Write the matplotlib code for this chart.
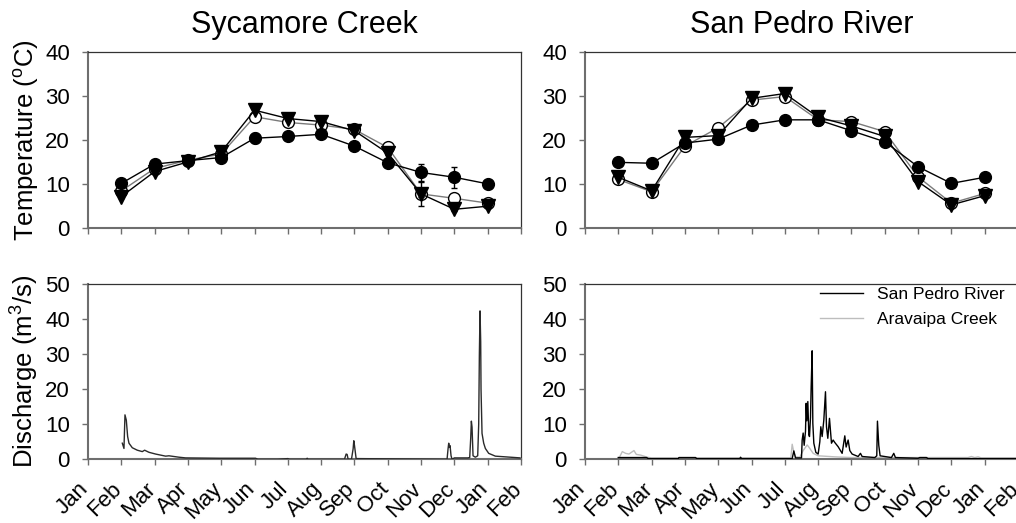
import matplotlib
matplotlib.use("Agg")
import matplotlib.pyplot as plt
import matplotlib.transforms as mtransforms
import numpy as np

plt.rcParams['font.family'] = ['Liberation Sans', 'DejaVu Sans']
plt.rcParams['mathtext.default'] = 'regular'

# ---------------- data ----------------
month_labels = ['Jan', 'Feb', 'Mar', 'Apr', 'May', 'Jun', 'Jul', 'Aug',
                'Sep', 'Oct', 'Nov', 'Dec', 'Jan', 'Feb']
temp_months = [1, 2, 3, 4, 5, 6, 7, 8, 9, 10, 11, 12]   # Feb .. Jan

# Sycamore Creek temperatures
syc_filled = [10.1, 14.5, 15.3, 16.0, 20.4, 20.8, 21.3, 18.6, 14.8, 12.6, 11.5, 10.0]
syc_filled_err = [0.3, 0.4, 0.4, 0.4, 1.1, 0.4, 0.4, 0.4, 0.5, 2.0, 2.4, 0.4]
syc_open = [8.4, 13.5, 15.4, 16.8, 25.3, 24.0, 23.4, 22.4, 18.3, 7.7, 6.7, 5.6]
syc_open_err = [0.3, 0.4, 0.4, 0.4, 0.5, 0.4, 0.4, 0.4, 0.5, 2.7, 0.8, 0.5]
syc_tri = [7.1, 12.8, 15.0, 17.3, 26.8, 24.9, 24.2, 22.1, 17.0, 7.7, 4.2, 4.9]
syc_tri_err = [0.3, 0.4, 0.4, 0.4, 0.5, 0.4, 0.4, 0.4, 0.5, 0.6, 0.5, 0.4]

# San Pedro River temperatures
sp_filled = [14.9, 14.7, 19.3, 20.2, 23.4, 24.6, 24.6, 22.1, 19.6, 13.9, 10.1, 11.5]
sp_open = [11.0, 8.2, 18.6, 22.8, 29.1, 29.9, 24.6, 24.2, 21.9, 11.6, 5.6, 7.8]
sp_tri = [11.5, 8.4, 20.6, 21.0, 29.5, 30.6, 25.2, 23.2, 20.8, 10.5, 5.2, 7.3]

# Sycamore Creek discharge (month position, m3/s)
syc_q_t = [1.03, 1.08, 1.11, 1.15, 1.19, 1.23, 1.33, 1.48, 1.63, 1.70, 1.83,
           2.03, 2.33, 2.43, 2.73, 2.93, 3.93, 5.03, 5.10, 5.70, 6.00, 6.05,
           6.55, 6.58, 6.61, 7.70, 7.75, 7.78, 7.81, 7.91, 7.96, 7.98, 8.00,
           8.05, 10.78, 10.81, 10.83, 10.85, 10.87, 10.90, 10.93, 11.00,
           11.40, 11.46, 11.49, 11.51, 11.53, 11.56, 11.63, 11.70, 11.73,
           11.75, 11.77, 11.79, 11.80, 11.83, 11.88, 11.93, 12.03, 12.23,
           12.53, 12.83, 12.97]
syc_q_v = [4.6, 3.1, 12.7, 11.2, 6.5, 4.6, 3.3, 2.6, 2.2, 2.6, 2.0,
           1.5, 0.9, 1.0, 0.6, 0.4, 0.3, 0.3, 0.0, 0.0, 0.2, 0.0,
           0.0, 0.3, 0.0, 0.0, 1.5, 1.4, 0.0, 0.0, 3.0, 5.3, 4.0,
           0.2, 0.0, 3.0, 4.6, 3.4, 3.9, 1.0, 0.0, 0.4,
           0.4, 0.5, 6.0, 10.9, 9.2, 1.0, 0.6, 1.0, 10.0,
           30.0, 42.4, 33.6, 20.0, 7.4, 4.6, 3.1, 1.7, 0.9,
           0.7, 0.5, 0.4]

# San Pedro River discharge
sp_q_t = [1.00, 1.85, 1.90, 2.80, 2.82, 3.32, 3.35, 4.65, 4.67, 4.70, 6.22,
          6.27, 6.32, 6.50, 6.52, 6.55, 6.58, 6.62, 6.64, 6.66, 6.69, 6.72,
          6.74, 6.77, 6.79, 6.82, 6.84, 6.87, 6.93, 7.00, 7.05, 7.08, 7.12,
          7.17, 7.22, 7.25, 7.29, 7.34, 7.40, 7.45, 7.50, 7.60, 7.72, 7.80,
          7.84, 7.90, 7.95, 8.02, 8.20, 8.27, 8.32, 8.70, 8.76, 8.78, 8.82,
          8.86, 9.20, 9.27, 9.32, 10.00, 10.05, 10.25, 10.30, 13.00]
sp_q_v = [0.5, 0.5, 0.2, 0.2, 0.5, 0.5, 0.2, 0.2, 0.6, 0.2, 0.2,
          2.4, 0.4, 0.4, 5.5, 7.5, 4.0, 8.0, 16.0, 11.0, 16.5, 7.0,
          6.5, 12.0, 20.7, 31.0, 10.3, 4.6, 2.0, 1.5, 5.0, 9.3, 6.5,
          11.2, 19.3, 9.3, 6.0, 11.7, 4.6, 5.5, 4.8, 3.6, 1.7, 6.7,
          3.5, 5.5, 2.5, 1.5, 0.8, 1.7, 0.8, 0.5, 1.0, 10.9, 4.0,
          1.0, 0.5, 1.7, 0.5, 0.3, 0.5, 0.5, 0.2, 0.2]

# Aravaipa Creek discharge
ar_q_t = [1.00, 1.02, 1.12, 1.22, 1.32, 1.47, 1.54, 1.67, 1.87, 2.00, 6.18,
          6.22, 6.27, 6.32, 6.45, 6.55, 6.67, 6.72, 6.85, 7.00, 7.50, 8.00,
          11.50, 11.60, 11.70, 11.80, 11.90, 13.00]
ar_q_v = [0.5, 0.3, 2.2, 1.7, 1.5, 2.5, 1.4, 1.2, 0.6, 0.4, 0.4,
          4.3, 2.0, 0.7, 0.6, 2.5, 4.1, 3.5, 1.7, 1.0, 0.7, 0.5,
          0.5, 0.8, 0.5, 0.7, 0.4, 0.4]

# ---------------- figure ----------------
W, H = 1016, 523
fig = plt.figure(figsize=(W / 100, H / 100), dpi=100)

def frac(x0, y0, x1, y1):
    return [x0 / W, 1 - y1 / H, (x1 - x0) / W, (y1 - y0) / H]

ax_tl = fig.add_axes(frac(88, 52.3, 521, 227.7))
ax_tr = fig.add_axes(frac(585, 52.3, 1018, 227.7))
ax_bl = fig.add_axes(frac(88, 284.3, 521, 459.3))
ax_br = fig.add_axes(frac(585, 284.3, 1018, 459.3))

TICK_FS = 16
SPINE_GREY = '#6e6e6e'
label_shift = mtransforms.ScaledTranslation(-0.10, -0.012, fig.dpi_scale_trans)

def style(ax, ymax, ystep, xlabels):
    ax.set_xlim(0, 13)
    ax.set_ylim(0, ymax)
    ax.set_xticks(range(14))
    ax.set_yticks(np.arange(0, ymax + 1, ystep))
    for s in ['left', 'bottom']:
        ax.spines[s].set_color(SPINE_GREY)
        ax.spines[s].set_linewidth(1.5)
    for s in ['top', 'right']:
        ax.spines[s].set_color('#333333')
        ax.spines[s].set_linewidth(0.9)
    ax.tick_params(direction='out', length=4, width=1, color=SPINE_GREY,
                   labelsize=TICK_FS, top=False, right=False)
    ax.tick_params(axis='y', pad=9)
    if xlabels:
        ax.set_xticklabels(month_labels, rotation=45, ha='right',
                           va='top', rotation_mode='anchor')
        ax.tick_params(axis='x', pad=9)
        for lab in ax.get_xticklabels():
            lab.set_transform(lab.get_transform() + label_shift)
    else:
        ax.set_xticklabels([])

def temp_plot(ax, filled, open_, tri, ferr=None, oerr=None, terr=None):
    kw = dict(markersize=8.5, capsize=2.5, elinewidth=1, capthick=1, ecolor='black')
    ax.errorbar(temp_months, open_, yerr=oerr, fmt='o-', color='#7a7a7a',
                mfc='white', mec='black', mew=1.0, lw=1, zorder=3, **kw)
    ax.errorbar(temp_months, tri, yerr=terr, fmt='v-', color='black',
                mfc='black', mec='black', lw=1, zorder=4,
                **dict(kw, markersize=9.5))
    ax.errorbar(temp_months, filled, yerr=ferr, fmt='o-', color='black',
                mfc='black', mec='black', lw=1, zorder=5, **kw)

temp_plot(ax_tl, syc_filled, syc_open, syc_tri, syc_filled_err, syc_open_err, syc_tri_err)
temp_plot(ax_tr, sp_filled, sp_open, sp_tri)

ax_bl.plot(syc_q_t, syc_q_v, color='#2a2a2a', lw=1.0, zorder=3)
ax_br.plot(ar_q_t, ar_q_v, color='#bdbdbd', lw=1.0, label='Aravaipa Creek', zorder=2)
ax_br.plot(sp_q_t, sp_q_v, color='black', lw=1.0, label='San Pedro River', zorder=3)

style(ax_tl, 40, 10, False)
style(ax_tr, 40, 10, False)
style(ax_bl, 50, 10, True)
style(ax_br, 50, 10, True)

ax_tl.set_title('Sycamore Creek', fontsize=22, pad=14)
ax_tr.set_title('San Pedro River', fontsize=22, pad=14)

ax_tl.set_ylabel('Temperature ($^{o}$C)', fontsize=18.5)
ax_bl.set_ylabel('Discharge (m$^{3}$/s)', fontsize=18.5)
ax_tl.yaxis.set_label_coords(-0.108, 0.5)
ax_bl.yaxis.set_label_coords(-0.108, 0.5)

handles, labels = ax_br.get_legend_handles_labels()
ax_br.legend(handles[::-1], labels[::-1], loc='upper right',
             bbox_to_anchor=(1005 / W, 1 - 287 / H), bbox_transform=fig.transFigure,
             frameon=False, fontsize=12.5, handlelength=2.5, handletextpad=0.8,
             labelspacing=0.55, borderpad=0, borderaxespad=0)

fig.savefig('out.png', dpi=100)
